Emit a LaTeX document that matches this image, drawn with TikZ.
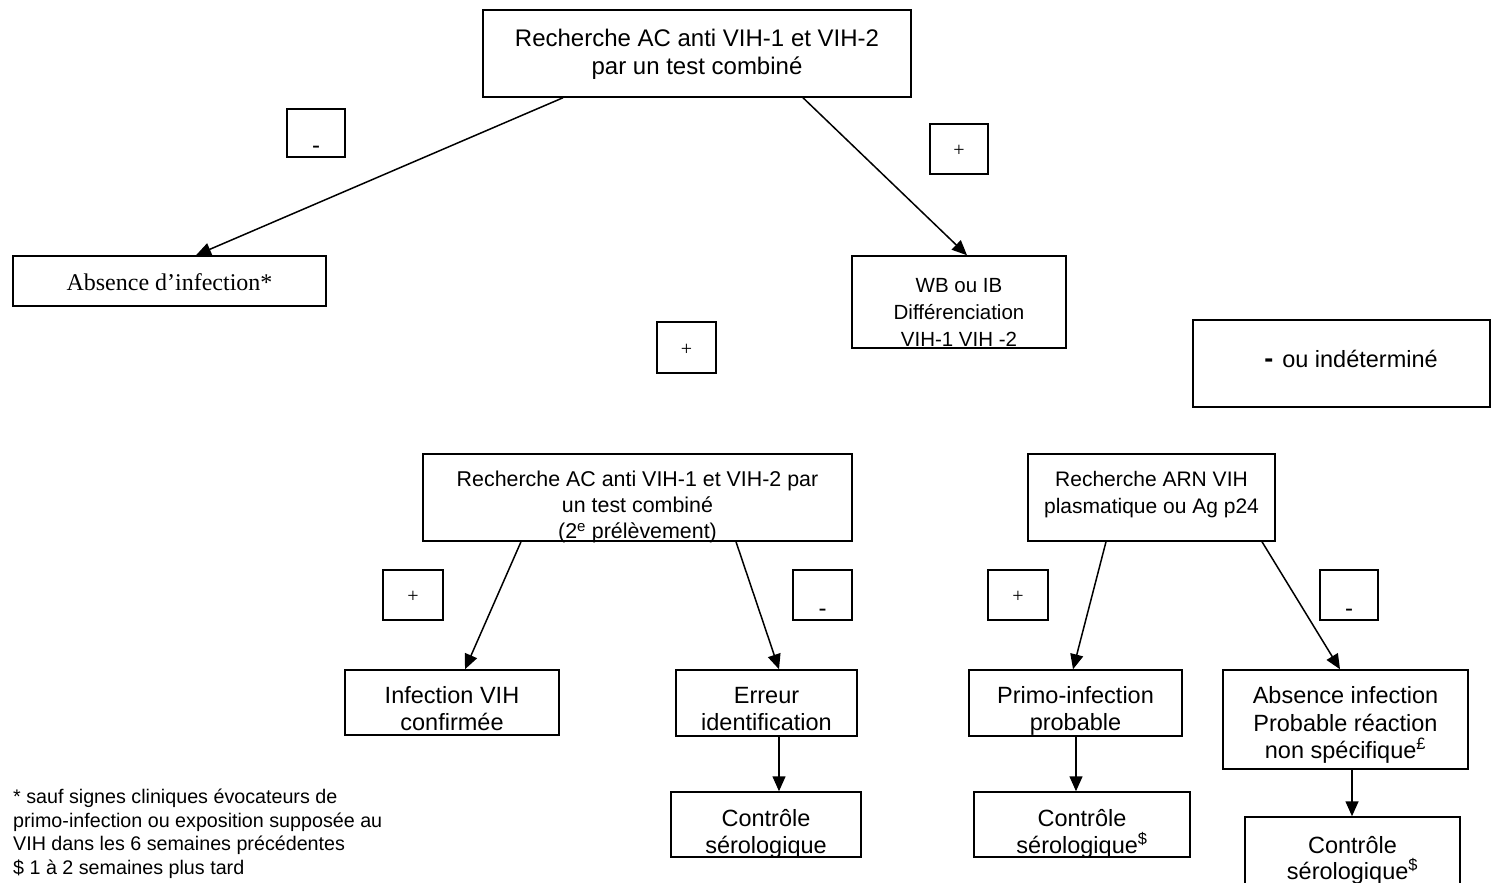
\documentclass[tikz,border=0pt]{standalone}
\usepackage{fontspec}
\setmainfont{Liberation Sans}
\newfontfamily\timesfont{Liberation Serif}
\usetikzlibrary{arrows.meta}
\begin{document}
\begin{tikzpicture}[x=1pt,y=-1pt,
  bx/.style={draw=black, line width=1.5pt, inner sep=0pt},
  sz/.style 2 args={minimum width=#1pt, minimum height=#2pt},
  txt/.style={align=center, inner sep=0pt},
  arr/.style={line width=1.5pt, -{Triangle[length=15pt,width=13pt]}},
  leaf/.style={txt, font=\fontsize{23.5}{27}\selectfont},
  signplus/.style={txt, font=\timesfont\fontsize{20}{20}\selectfont},
  signminus/.style={txt, anchor=base, font=\fontsize{24}{24}\selectfont}]
\useasboundingbox (0,0) rectangle (1491,883);
\clip (0,0) rectangle (1491,883);
\fill[white] (0,0) rectangle (1491,883);

% top level
\node[bx, sz={428}{87}] (top) at (697,53.5) {};
\node[txt, font=\fontsize{24}{28}\selectfont] (ttop) at (697,54) {Recherche AC anti VIH-1 et VIH-2\\par un test combiné};

\node[bx, sz={58}{48}] (sneg1) at (316,133) {};
\node[signminus] (tneg1) at (316,153) {-};

\node[bx, sz={58}{50}] (spos1) at (959,149) {};
\node[signplus] (tpos1) at (959,151) {+};

\node[bx, sz={313}{50}] (abs) at (169.5,281) {};
\node[txt, font=\timesfont\fontsize{24}{28}\selectfont] (tabs) at (169.5,282) {Absence d’infection*};

\node[bx, sz={214}{92}] (wb) at (959,302) {};
\node[txt, font=\fontsize{20.5}{27}\selectfont] (twb) at (959,312) {WB ou IB\\Différenciation\\VIH-1 VIH -2};

\node[bx, sz={59}{51}] (spos2) at (686.5,347.5) {};
\node[signplus] (tpos2) at (686.5,350) {+};

\node[bx, sz={297}{87}] (ind) at (1341.5,363.5) {};
\node[txt, font=\fontsize{23.5}{27}\selectfont] (tind) at (1351,359) {{\bfseries\fontsize{27}{27}\selectfont -}\hspace{9pt}ou indéterminé};

% second level
\node[bx, sz={429}{87}] (rac2) at (637.5,497.5) {};
\node[txt, font=\fontsize{21.4}{26}\selectfont] (trac2) at (637.5,507) {Recherche AC anti VIH-1 et VIH-2 par\\un test combiné\\(2\textsuperscript{e} prélèvement)};

\node[bx, sz={247}{87}] (arn) at (1151.5,497.5) {};
\node[txt, font=\fontsize{21}{27}\selectfont] (tarn) at (1151.5,494.5) {Recherche ARN VIH\\plasmatique ou Ag p24};

\node[bx, sz={60}{50}] (spos3) at (413,595) {};
\node[signplus] (tpos3) at (413,597) {+};
\node[bx, sz={59}{50}] (sneg2) at (822.5,595) {};
\node[signminus] (tneg2) at (822.5,616) {-};
\node[bx, sz={60}{50}] (spos4) at (1018,595) {};
\node[signplus] (tpos4) at (1018,597) {+};
\node[bx, sz={58}{50}] (sneg3) at (1349,595) {};
\node[signminus] (tneg3) at (1349,616) {-};

% leaves
\node[bx, sz={214}{65}] (inf) at (452,702.5) {};
\node[leaf] (tinf) at (452,709) {Infection VIH\\confirmée};
\node[bx, sz={181}{66}] (err) at (766.5,703) {};
\node[leaf] (terr) at (766.5,709) {Erreur\\identification};
\node[bx, sz={213}{66}] (primo) at (1075.5,703) {};
\node[leaf] (tprimo) at (1075.5,711) {Primo-infection\\probable};
\node[bx, sz={245}{99}] (absi) at (1345.5,719.5) {};
\node[txt, font=\fontsize{23.5}{27.5}\selectfont] (tabsi) at (1345.5,725) {Absence infection\\Probable réaction\\non spécifique\textsuperscript{£}};

\node[bx, sz={190}{65}] (ctl1) at (766,824.5) {};
\node[leaf] (tctl1) at (766,833.5) {Contrôle\\sérologique};
\node[bx, sz={216}{65}] (ctl2) at (1082,824.5) {};
\node[leaf] (tctl2) at (1082,833.5) {Contrôle\\sérologique\textsuperscript{\$}};
\node[bx, sz={215}{78}] (ctl3) at (1352.5,856) {};
\node[txt, font=\fontsize{23.5}{26}\selectfont] (tctl3) at (1352.5,860) {Contrôle\\sérologique\textsuperscript{\$}};

% footnote
\node[anchor=north west, align=left, inner sep=0pt, font=\fontsize{19.7}{23.5}\selectfont] (foot) at (13,789) {* sauf signes cliniques évocateurs de\\primo-infection ou exposition supposée au\\VIH dans les 6 semaines précédentes\\\$ 1 à 2 semaines plus tard};

% connectors
\draw[arr] (top.south -| 563,0) -- (abs.north -| 196,0);
\draw[arr] (top.south -| 803,0) -- (wb.north -| 967,0);
\draw[arr] (rac2.south -| 521,0) -- (inf.north -| 465,0);
\draw[arr] (rac2.south -| 736,0) -- (err.north -| 779,0);
\draw[arr] (arn.south -| 1106,0) -- (primo.north -| 1073,0);
\draw[arr] (arn.south -| 1262,0) -- (absi.north -| 1340,0);
\draw[arr] (err.south -| 779,0) -- (ctl1.north -| 779,0);
\draw[arr] (primo.south -| 1076,0) -- (ctl2.north -| 1076,0);
\draw[arr] (absi.south -| 1352,0) -- (ctl3.north -| 1352,0);
\end{tikzpicture}
\end{document}
